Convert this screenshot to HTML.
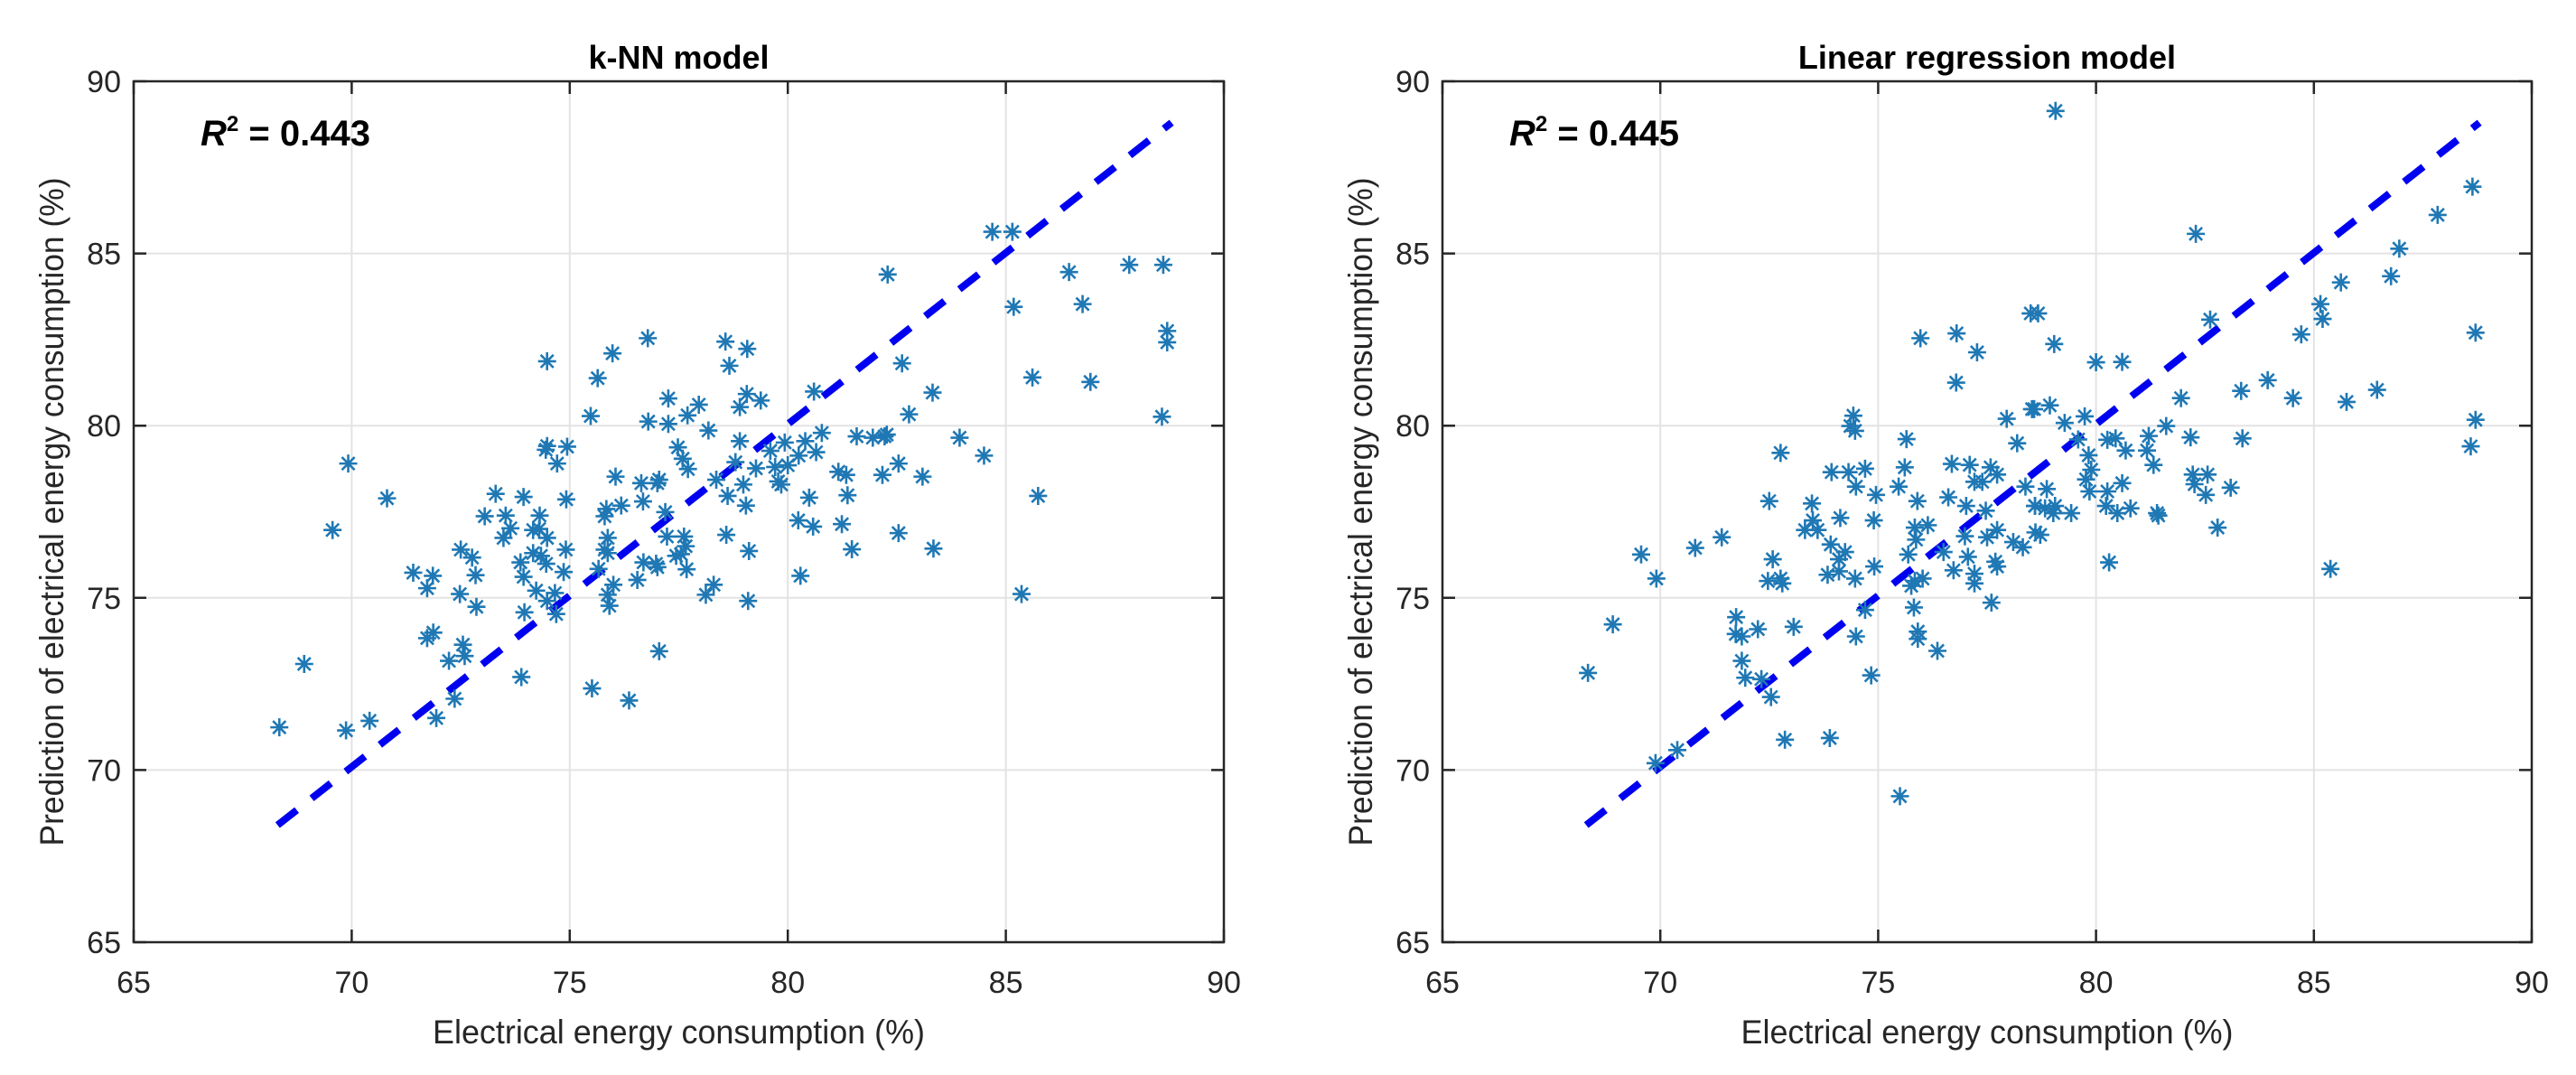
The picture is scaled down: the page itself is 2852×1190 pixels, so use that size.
<!DOCTYPE html>
<html><head><meta charset="utf-8"><style>
html,body{margin:0;padding:0;background:#fff;}
svg{display:block;font-family:"Liberation Sans",Arial,sans-serif;}
</style></head><body>
<svg id="fig" width="2852" height="1190" viewBox="0 0 2852 1190" xmlns="http://www.w3.org/2000/svg"></svg>
<script>
const ticks = [65,70,75,80,85,90];
const tickLabels = ["65","70","75","80","85","90"];
const titles = ["k-NN model","Linear regression model"];
const r2Labels = ["0.443","0.445"];
const refLine = [[68.3,68.4],[88.8,88.8]];
const knnX = [74.48,75.98,76.79,75.64,78.57,78.66,75.48,77.26,77.96,76.8,77.26,77.7,78.18,74.48,74.45,74.94,74.71,69.92,77.48,77.59,77.71,78.8,76.05,76.64,77.05,77.01,78.36,78.62,70.81,73.3,73.94,74.92,76.18,76.68,73.05,73.53,74.31,75.8,75.84,77.19,69.56,73.64,73.48,74.16,74.3,74.48,78.59,75.87,75.8,75.87,74.91,77.23,77.62,77.66,77.55,77.44,72.5,72.76,74.16,74.34,73.87,76.69,76.98,77.01,77.68,71.41,71.86,71.73,72.84,73.94,74.46,74.86,75.66,76.55,76.0,75.87,75.91,78.3,78.12,72.48,74.23,74.66,74.48,74.69,72.86,73.96,71.87,71.73,72.55,72.59,72.23,68.91,73.89,77.05,75.51,76.36,72.36,71.94,70.41,68.34,69.87,
84.69,85.15,82.29,86.45,87.83,88.61,85.18,86.76,88.7,88.7,79.07,82.62,85.61,86.94,80.6,83.32,79.06,79.38,78.9,82.78,88.58,78.9,79.6,79.93,80.4,80.78,80.25,80.65,81.58,81.95,82.22,82.27,83.94,84.5,79.27,79.71,79.78,79.85,80.0,78.98,79.04,81.16,81.34,82.17,82.54,83.09,80.49,81.37,80.24,80.58,81.24,82.54,83.34,81.47,79.11,85.74,80.29,85.36,79.09];
const knnY = [81.87,82.1,82.54,81.38,82.44,81.74,80.28,80.79,80.61,80.12,80.05,80.3,79.86,79.41,79.3,79.39,78.9,78.9,79.37,79.04,78.74,78.94,78.52,78.33,78.43,78.33,78.43,77.96,77.89,78.02,77.93,77.86,77.68,77.8,77.37,77.39,77.39,77.37,77.58,77.49,76.97,77.02,76.74,76.97,77.0,76.74,76.83,76.74,76.4,76.3,76.4,76.78,76.78,76.5,76.27,76.22,76.4,76.17,76.3,76.22,76.03,76.03,75.99,75.89,75.83,75.73,75.64,75.28,75.66,75.61,75.99,75.75,75.84,75.52,75.38,75.09,74.77,75.38,75.09,75.11,75.21,75.14,74.91,74.53,74.74,74.58,73.99,73.83,73.64,73.31,73.17,73.08,72.7,73.45,72.37,72.02,72.07,71.51,71.43,71.24,71.15,
85.63,85.63,84.39,84.46,84.67,84.67,83.45,83.53,82.75,82.42,82.23,81.81,81.4,81.27,80.99,80.96,80.92,80.73,80.54,80.33,80.26,79.55,79.27,79.51,79.55,79.79,79.13,79.23,79.69,79.65,79.69,79.74,79.65,79.13,78.76,78.8,78.38,78.29,78.85,78.29,77.68,78.66,78.57,78.57,78.9,78.52,77.91,77.98,77.25,77.07,77.14,76.88,76.43,76.41,76.36,77.96,75.64,75.11,74.91];
const linX = [78.5,75.97,76.8,77.27,76.79,78.58,77.95,78.19,74.43,74.36,74.47,72.76,75.65,75.61,73.93,74.32,74.7,74.49,75.47,76.69,77.1,77.58,77.73,77.21,77.39,78.38,72.5,73.48,74.95,75.9,76.61,77.02,77.47,78.6,74.13,74.9,73.5,73.32,73.61,71.41,70.8,69.56,75.84,76.14,75.87,76.99,77.5,77.73,78.1,78.32,78.61,73.91,74.24,74.1,75.69,76.5,77.06,72.58,69.91,72.47,72.8,72.76,73.84,74.1,74.47,74.91,75.84,76.02,75.76,76.73,77.21,77.21,77.69,77.73,77.6,74.7,75.82,68.91,71.74,71.73,71.87,72.24,73.06,74.49,75.91,75.91,76.36,71.87,71.95,72.32,72.54,74.84,68.34,72.86,73.89,69.89,70.39,75.5,
79.07,82.29,88.64,87.84,86.96,86.77,85.62,85.15,85.2,84.71,82.62,88.71,78.67,79.04,80.0,80.6,81.95,83.33,83.94,84.52,85.75,86.45,88.71,88.6,78.53,78.94,79.28,79.74,79.59,80.26,80.45,80.68,81.21,81.17,81.32,81.61,82.17,83.36,79.83,79.89,79.77,79.85,78.87,78.83,79.06,79.02,79.43,78.6,78.72,80.26,80.23,80.49,80.79,80.6,81.4,81.43,82.22,82.56,82.26,82.52,83.09,82.79,80.3,85.38];
const linY = [83.26,82.54,82.68,82.13,81.25,80.48,80.2,79.49,80.29,79.99,79.85,79.21,79.61,78.79,78.65,78.65,78.75,78.23,78.23,78.89,78.86,78.79,78.58,78.37,78.37,78.23,77.81,77.74,77.99,77.81,77.92,77.67,77.53,77.67,77.32,77.25,77.25,76.97,76.97,76.76,76.45,76.26,77.04,77.11,76.69,76.79,76.76,76.97,76.62,76.47,76.9,76.55,76.33,76.12,76.26,76.33,76.19,76.12,75.56,75.49,75.42,75.56,75.67,75.77,75.56,75.91,75.49,75.56,75.35,75.8,75.7,75.42,76.05,75.91,74.86,74.65,74.72,74.23,74.44,73.95,73.88,74.09,74.16,73.88,74.02,73.81,73.46,73.17,72.68,72.64,72.12,72.75,72.82,70.88,70.93,70.2,70.58,69.24,
89.14,85.57,86.94,86.12,85.14,84.34,84.16,83.53,83.1,82.65,83.08,82.7,83.26,82.37,81.84,81.85,80.8,81.01,81.32,80.8,80.69,81.04,80.17,79.4,80.48,80.59,80.08,80.27,79.6,79.59,79.63,79.28,79.7,79.28,78.86,79.99,79.66,79.63,79.14,78.72,78.44,78.09,78.16,77.6,77.67,77.46,77.46,77.67,76.83,78.09,77.67,77.46,77.6,78.33,77.46,77.39,78.58,78.58,78.3,77.99,78.2,77.04,76.03,75.84];

const NS = "http://www.w3.org/2000/svg";
const svg = document.getElementById('fig');
function mk(tag, attrs, parent){ const e=document.createElementNS(NS,tag); for(const k in attrs) e.setAttribute(k,attrs[k]); (parent||svg).appendChild(e); return e; }

const panels = [
  {x0:148, x1:1355, xs:knnX, ys:knnY},
  {x0:1597, x1:2803, xs:linX, ys:linY}
];
const Y0 = 1043, Y1 = 90;

panels.forEach((p, pi) => {
  const g = mk('g', {});
  
  
  const sx = v => p.x0 + (v-65)/25*(p.x1-p.x0);
  const sy = v => Y0 - (v-65)/25*(Y0-Y1);
  // grid
  ticks.forEach((t, i) => {
    if (i>0 && i<ticks.length-1) {
      const gv = mk('line', {x1:sx(t),x2:sx(t),y1:Y1,y2:Y0,stroke:'#e3e3e3','stroke-width':2}, g);
      
      
      const gh = mk('line', {x1:p.x0,x2:p.x1,y1:sy(t),y2:sy(t),stroke:'#e3e3e3','stroke-width':2}, g);
      
      
    }
  });
  // ref line
  const rl = mk('line', {x1:sx(refLine[0][0]),y1:sy(refLine[0][1]),x2:sx(refLine[1][0]),y2:sy(refLine[1][1]),stroke:'#0000f0','stroke-width':8,'stroke-dasharray':'27 21'}, g);
  
  
  // points
  const r = 10, d = 7.07;
  p.xs.forEach((xv, i) => {
    const cx = sx(xv), cy = sy(p.ys[i]);
    const pt = mk('path', {d:`M${cx-r} ${cy}H${cx+r}M${cx} ${cy-r}V${cy+r}M${cx-d} ${cy-d}L${cx+d} ${cy+d}M${cx-d} ${cy+d}L${cx+d} ${cy-d}`, stroke:'#1f78b4','stroke-width':2.6, fill:'none'}, g);
    
    
  });
  // box
  const bx = mk('rect', {x:p.x0,y:Y1,width:p.x1-p.x0,height:Y0-Y1,fill:'none',stroke:'#262626','stroke-width':2.5}, g);
  
  
  ticks.forEach((t, i) => {
    const tk = mk('path', {d:`M${sx(t)} ${Y0}v-14M${sx(t)} ${Y1}v14M${p.x0} ${sy(t)}h14M${p.x1} ${sy(t)}h-14`, stroke:'#262626','stroke-width':2.5}, g);
    
    
    const xl = mk('text', {x:sx(t), y:1099, 'text-anchor':'middle', 'font-size':34, fill:'#262626'}, g);
    xl.textContent = tickLabels[i];
    
    
    const yl = mk('text', {x:p.x0-14, y:sy(t)+12, 'text-anchor':'end', 'font-size':34, fill:'#262626'}, g);
    yl.textContent = tickLabels[i];
    
    
  });
  const xt = mk('text', {x:(p.x0+p.x1)/2, y:1155, 'text-anchor':'middle', 'font-size':37, fill:'#262626', textLength:545, lengthAdjust:'spacingAndGlyphs'}, g);
  xt.textContent = 'Electrical energy consumption (%)';
  
  
  const yc = (Y0+Y1)/2;
  const yt = mk('text', {x:p.x0-78, y:yc, 'text-anchor':'middle', 'font-size':37, fill:'#262626', transform:`rotate(-90 ${p.x0-78} ${yc})`, textLength:740, lengthAdjust:'spacingAndGlyphs'}, g);
  yt.textContent = 'Prediction of electrical energy consumption (%)';
  
  
  const tt = mk('text', {x:(p.x0+p.x1)/2, y:76, 'text-anchor':'middle', 'font-size':36, 'font-weight':'bold', fill:'#000'}, g);
  tt.textContent = titles[pi];
  
  
  const r2 = mk('text', {x:p.x0+74, y:161, 'font-size':40, 'font-weight':'bold', fill:'#000'}, g);
  
  
  const a = mk('tspan', {'font-style':'italic'}, r2); a.textContent = 'R';
  const b = mk('tspan', {'font-size':24, dy:-16}, r2); b.textContent = '2';
  const c = mk('tspan', {dy:16}, r2); c.textContent = ' = ' + r2Labels[pi];
});
</script>
</body></html>
